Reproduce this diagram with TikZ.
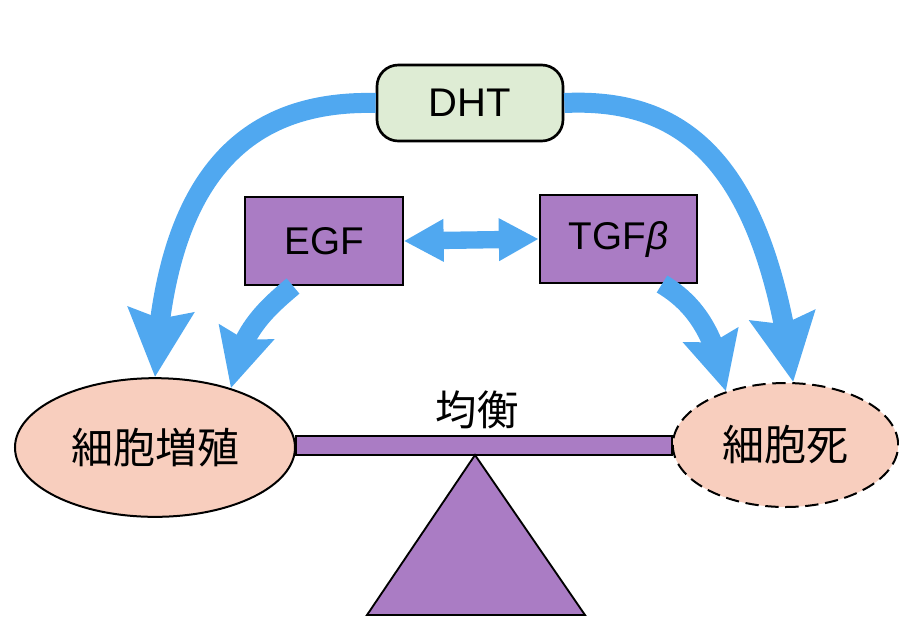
\documentclass[tikz,border=0pt]{standalone}
\usepackage{fontspec}
\setmainfont{Liberation Sans}
\newfontfamily\jpfont{Noto Sans CJK JP}
\usetikzlibrary{arrows.meta,bending,shapes.geometric}

\definecolor{flowblue}{RGB}{80,168,240}
\definecolor{boxpurple}{RGB}{170,124,196}
\definecolor{dhtgreen}{RGB}{222,236,212}
\definecolor{cellpink}{RGB}{248,206,190}

\begin{document}
\begin{tikzpicture}[x=0.75pt,y=-0.75pt,
  hormone/.style={draw=black,line width=2pt,fill=dhtgreen,rounded corners=16pt,
    minimum width=139.5pt,minimum height=57pt,inner sep=0pt,
    font=\fontsize{30}{32}\selectfont},
  factor/.style={draw=black,line width=1.5pt,fill=boxpurple,
    minimum width=118pt,minimum height=66pt,inner sep=0pt,
    font=\fontsize{29}{32}\selectfont},
  cell/.style={ellipse,draw=black,line width=1.5pt,fill=cellpink,inner sep=0pt,
    font=\jpfont\fontsize{31.5}{34}\selectfont},
  bigflow/.style={draw=flowblue,line width=15pt,
    -{Stealth[length=50pt,width=48pt,inset=6pt]}},
  smallflow/.style={draw=flowblue,line width=15pt,
    -{Stealth[length=43pt,width=41pt,inset=5pt]}},
  exchange/.style={draw=flowblue,line width=13pt,
    {Triangle[length=30pt,width=30pt]}-{Triangle[length=30pt,width=30pt]}},
  balance/.style={draw=black,line width=1.4pt,fill=boxpurple}]

\useasboundingbox (0,0) rectangle (899,619);

% regulators
\node[hormone] (dht) at (470,103) {DHT};
\node[factor] (egf) at (324,241) {EGF};
\node[factor] (tgf) at (618.5,239) {TGF\textit{β}};

% cell fates
\node[cell,minimum width=210pt,minimum height=104pt] (prolif) at (155,447.5) {細胞増殖};
\node[cell,dashed,dash pattern=on 10pt off 5pt,minimum width=169pt,minimum height=93pt]
  (death) at (785.5,445) {細胞死};

% seesaw
\path[balance] (prolif.east |- 0,436) rectangle (death.west |- 0,455);
\coordinate (pivot) at (475,455);
\path[balance] (pivot) -- (585,615) -- (367,615) -- cycle;
\node[font=\jpfont\fontsize{31}{34}\selectfont] (eq) at (477,410) {均衡};

% signalling
\draw[bigflow] (dht.west) .. controls (250,100) and (165,170) .. (prolif.north);
\draw[bigflow] (dht.east) .. controls (690,97) and (765,170) .. (death.83);
\draw[smallflow] (egf.south -| 293,0) .. controls (262,312) and (238,335) .. (prolif.38);
\draw[smallflow] (tgf.south -| 662,0) .. controls (692,302) and (715,330) .. (death.138);
\draw[exchange] (egf.east) -- (tgf.west);
\end{tikzpicture}
\end{document}
